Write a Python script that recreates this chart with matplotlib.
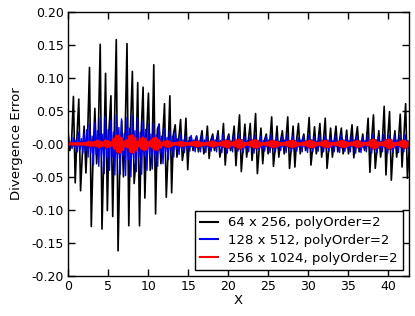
import numpy as np
import matplotlib
matplotlib.use("Agg")
import matplotlib.pyplot as plt

# 64 x 256: one spike pair plus a filler value per ~0.67 wide cell in X
black_peak = [0.019, 0.072, 0.068, 0.027, 0.116, 0.054, 0.151, 0.107,
              0.073, 0.158, 0.035, 0.152, 0.110, 0.093, 0.086, 0.077,
              0.120, 0.030, 0.061, 0.073, 0.029, 0.037, 0.039, 0.010,
              0.012, 0.020, 0.027, 0.015, 0.020, 0.031, 0.015, 0.027,
              0.044, 0.030, 0.031, 0.046, 0.024, 0.015, 0.041, 0.027,
              0.020, 0.041, 0.027, 0.031, 0.015, 0.040, 0.026, 0.031,
              0.039, 0.024, 0.027, 0.024, 0.021, 0.029, 0.026, 0.015,
              0.039, 0.044, 0.020, 0.057, 0.049, 0.020, 0.045, 0.061]
black_trough = [-0.010, -0.059, -0.071, -0.044, -0.125, -0.030, -0.129, -0.101,
                -0.110, -0.162, -0.050, -0.124, -0.060, -0.124, -0.082, -0.040,
                -0.106, -0.030, -0.081, -0.074, -0.020, -0.025, -0.039, -0.010,
                -0.012, -0.015, -0.022, -0.010, -0.020, -0.032, -0.010, -0.033,
                -0.042, -0.020, -0.025, -0.045, -0.030, -0.015, -0.034, -0.020,
                -0.015, -0.037, -0.035, -0.015, -0.010, -0.032, -0.015, -0.020,
                -0.037, -0.020, -0.012, -0.015, -0.015, -0.021, -0.012, -0.010,
                -0.043, -0.037, -0.020, -0.047, -0.055, -0.020, -0.035, -0.052]
black_mid = [0.005, 0.012, -0.015, 0.018, -0.020, 0.022, -0.018, 0.025,
             0.030, -0.028, 0.020, 0.026, -0.025, 0.020, 0.015, -0.018,
             0.022, 0.010, -0.012, 0.015, 0.008, -0.006, 0.010, 0.004,
             0.005, -0.004, 0.006, 0.004, -0.005, 0.006, 0.004, 0.008,
             -0.006, 0.007, 0.005, -0.007, 0.006, 0.004, -0.006, 0.005,
             0.006, -0.005, 0.007, 0.004, 0.006, -0.005, 0.005, 0.006,
             -0.006, 0.004, 0.005, -0.004, 0.005, 0.006, -0.005, 0.004,
             0.008, -0.007, 0.006, 0.010, -0.008, 0.006, 0.009, -0.008]

# 128 x 512: first / second sample per ~0.33 wide cell
blue_hi = [0.006, 0.003, 0.010, 0.006, 0.018, 0.008, 0.016, 0.022,
           0.030, 0.012, 0.032, 0.020, 0.040, 0.015, 0.042, 0.022,
           0.036, 0.018, 0.044, 0.025, 0.038, 0.016, 0.040, 0.024,
           0.043, 0.020, 0.040, 0.018, 0.034, 0.022, 0.030, 0.015,
           0.031, 0.014, 0.030, 0.012, 0.024, 0.010, 0.020, 0.012,
           0.017, 0.008, 0.016, 0.006, 0.012, 0.005, 0.013, 0.006,
           0.012, 0.005, 0.013, 0.006, 0.012, 0.004, 0.011, 0.006,
           0.013, 0.005, 0.015, 0.006, 0.012, 0.004, 0.013, 0.005,
           0.014, 0.006, 0.011, 0.005, 0.012, 0.006, 0.013, 0.004,
           0.012, 0.005, 0.012, 0.006, 0.014, 0.005, 0.011, 0.004,
           0.012, 0.006, 0.014, 0.005, 0.013, 0.004, 0.010, 0.006,
           0.011, 0.005, 0.014, 0.006, 0.011, 0.004, 0.013, 0.005,
           0.012, 0.006, 0.010, 0.005, 0.013, 0.004, 0.014, 0.006,
           0.012, 0.005, 0.012, 0.006, 0.012, 0.004, 0.010, 0.005,
           0.013, 0.006, 0.015, 0.005, 0.011, 0.004, 0.015, 0.006,
           0.013, 0.005, 0.012, 0.006, 0.013, 0.004, 0.014, 0.005]
blue_lo = [-0.003, -0.007, -0.005, -0.012, -0.008, -0.014, -0.010, -0.020,
           -0.014, -0.032, -0.016, -0.034, -0.018, -0.045, -0.020, -0.040,
           -0.020, -0.047, -0.022, -0.046, -0.018, -0.048, -0.024, -0.050,
           -0.022, -0.042, -0.020, -0.046, -0.018, -0.040, -0.016, -0.038,
           -0.016, -0.034, -0.014, -0.030, -0.012, -0.024, -0.010, -0.020,
           -0.008, -0.016, -0.007, -0.013, -0.006, -0.011, -0.005, -0.012,
           -0.005, -0.012, -0.004, -0.013, -0.006, -0.011, -0.005, -0.012,
           -0.004, -0.013, -0.005, -0.014, -0.006, -0.012, -0.004, -0.011,
           -0.005, -0.013, -0.006, -0.012, -0.004, -0.014, -0.005, -0.010,
           -0.006, -0.011, -0.004, -0.013, -0.005, -0.012, -0.006, -0.010,
           -0.005, -0.013, -0.004, -0.012, -0.006, -0.011, -0.005, -0.012,
           -0.004, -0.013, -0.006, -0.012, -0.005, -0.011, -0.004, -0.012,
           -0.006, -0.011, -0.005, -0.012, -0.004, -0.013, -0.005, -0.011,
           -0.006, -0.012, -0.004, -0.014, -0.005, -0.013, -0.006, -0.012,
           -0.004, -0.014, -0.005, -0.013, -0.006, -0.012, -0.005, -0.014,
           -0.004, -0.012, -0.006, -0.013, -0.005, -0.012, -0.004, -0.013]

# 256 x 1024: upper / lower swing per ~0.33 wide cell (the blobs)
red_hi = [0.0008, 0.0008, 0.0008, 0.0008, 0.0008, 0.0008, 0.0012, 0.0018,
          0.0032, 0.0022, 0.0030, 0.0050, 0.0036, 0.0022, 0.0050, 0.0040,
          0.0020, 0.0070, 0.0115, 0.0125, 0.0090, 0.0030, 0.0050, 0.0115,
          0.0130, 0.0095, 0.0030, 0.0070, 0.0095, 0.0075, 0.0020, 0.0050,
          0.0085, 0.0090, 0.0055, 0.0015, 0.0035, 0.0045, 0.0035, 0.0012,
          0.0010, 0.0018, 0.0028, 0.0024, 0.0010, 0.0010, 0.0016, 0.0026,
          0.0034, 0.0030, 0.0012, 0.0010, 0.0016, 0.0028, 0.0034, 0.0024,
          0.0010, 0.0016, 0.0034, 0.0048, 0.0040, 0.0012, 0.0028, 0.0052,
          0.0062, 0.0044, 0.0012, 0.0012, 0.0028, 0.0046, 0.0054, 0.0040,
          0.0012, 0.0010, 0.0016, 0.0026, 0.0040, 0.0044, 0.0030, 0.0012,
          0.0010, 0.0016, 0.0028, 0.0042, 0.0044, 0.0028, 0.0010, 0.0010,
          0.0016, 0.0030, 0.0044, 0.0048, 0.0028, 0.0010, 0.0016, 0.0030,
          0.0044, 0.0040, 0.0012, 0.0010, 0.0016, 0.0028, 0.0042, 0.0044,
          0.0026, 0.0010, 0.0016, 0.0030, 0.0042, 0.0034, 0.0012, 0.0010,
          0.0018, 0.0044, 0.0062, 0.0050, 0.0018, 0.0012, 0.0028, 0.0055,
          0.0062, 0.0042, 0.0012, 0.0012, 0.0030, 0.0048, 0.0042, 0.0020]
red_lo = [-0.0008, -0.0008, -0.0008, -0.0008, -0.0008, -0.0008, -0.0012, -0.0018,
          -0.0030, -0.0022, -0.0030, -0.0048, -0.0036, -0.0022, -0.0048, -0.0040,
          -0.0020, -0.0070, -0.0115, -0.0127, -0.0090, -0.0030, -0.0050, -0.0117,
          -0.0128, -0.0095, -0.0030, -0.0070, -0.0093, -0.0075, -0.0020, -0.0050,
          -0.0083, -0.0090, -0.0055, -0.0015, -0.0035, -0.0045, -0.0035, -0.0012,
          -0.0010, -0.0018, -0.0028, -0.0024, -0.0010, -0.0010, -0.0016, -0.0026,
          -0.0033, -0.0030, -0.0012, -0.0010, -0.0016, -0.0028, -0.0033, -0.0024,
          -0.0010, -0.0016, -0.0034, -0.0047, -0.0040, -0.0012, -0.0028, -0.0050,
          -0.0061, -0.0044, -0.0012, -0.0012, -0.0028, -0.0046, -0.0052, -0.0040,
          -0.0012, -0.0010, -0.0016, -0.0026, -0.0040, -0.0042, -0.0030, -0.0012,
          -0.0010, -0.0016, -0.0028, -0.0042, -0.0042, -0.0028, -0.0010, -0.0010,
          -0.0016, -0.0030, -0.0044, -0.0047, -0.0028, -0.0010, -0.0016, -0.0030,
          -0.0042, -0.0040, -0.0012, -0.0010, -0.0016, -0.0028, -0.0042, -0.0042,
          -0.0026, -0.0010, -0.0016, -0.0030, -0.0042, -0.0034, -0.0012, -0.0010,
          -0.0018, -0.0044, -0.0061, -0.0050, -0.0018, -0.0012, -0.0028, -0.0055,
          -0.0061, -0.0042, -0.0012, -0.0012, -0.0030, -0.0047, -0.0042, -0.0020]

labels = ["64 x 256, polyOrder=2", "128 x 512, polyOrder=2",
          "256 x 1024, polyOrder=2"]
x_max = 42.6

# interleave the read values into one sample sequence per resolution
black = np.column_stack([black_peak, black_trough, black_mid]).ravel()
blue = np.column_stack([blue_hi, blue_lo]).ravel()
red = np.column_stack([red_hi, red_lo]).ravel()
x_black = np.linspace(0, x_max, len(black))
x_blue = np.linspace(0, x_max, len(blue))
x_red = np.linspace(0, x_max, len(red))
x_red_cell = np.linspace(0, x_max, len(red_hi))

plt.rcParams['font.family'] = ['DejaVu Sans']
fig = plt.figure(figsize=(4.15, 3.16), dpi=100)
ax = fig.add_axes([0.164, 0.127, 0.822, 0.835])

ax.plot(x_black, black, color='black', lw=1.2, label=labels[0])
ax.plot(x_blue, blue, color='blue', lw=1.0, label=labels[1])
# the fine grid oscillates faster than a pixel, so it shows as a solid band
ax.fill_between(x_red_cell, red_lo, red_hi, color='red', lw=2.2,
                edgecolor='red')
ax.plot(x_red, red, color='red', lw=2.0, label=labels[2])

ax.set_xlim(0, x_max)
ax.set_ylim(-0.20, 0.20)
ax.set_xticks(np.arange(0, 41, 5))
ax.set_yticks(np.arange(-0.20, 0.201, 0.05))
ax.yaxis.set_major_formatter(matplotlib.ticker.FormatStrFormatter('%.2f'))
ax.tick_params(direction='in', top=True, right=True, length=5, width=1,
               labelsize=9, pad=3)
for s in ax.spines.values():
    s.set_linewidth(1)
ax.set_xlabel('X', fontsize=9.5, labelpad=1)
ax.set_ylabel('Divergence Error', fontsize=9.5, labelpad=6)

leg = ax.legend(loc='lower right', fontsize=9.5, fancybox=False,
                handlelength=1.4, handletextpad=0.75, borderaxespad=0.45,
                labelspacing=0.35, framealpha=1)
leg.get_frame().set_edgecolor('black')
leg.get_frame().set_linewidth(1)
for line in leg.get_lines():
    line.set_linewidth(1.5)

fig.savefig('out.png', dpi=100)
